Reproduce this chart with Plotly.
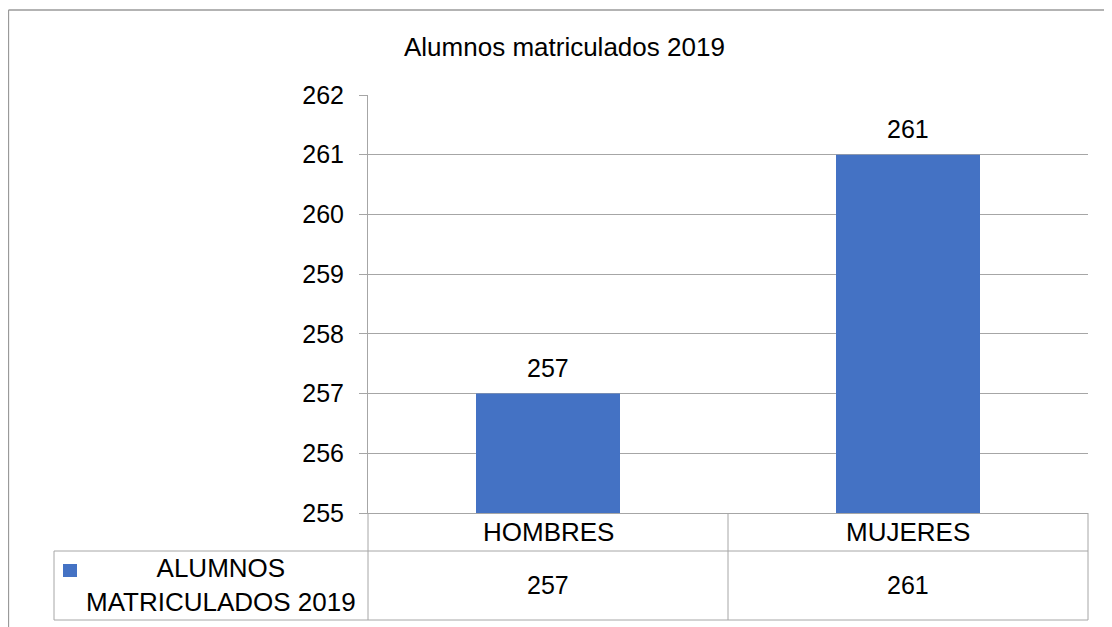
import plotly.graph_objects as go

# ---- data ----
categories = ["HOMBRES", "MUJERES"]
values = [257, 261]
series_name = "ALUMNOS<br>MATRICULADOS 2019"
title_text = "Alumnos matriculados 2019"
y_ticks = [255, 256, 257, 258, 259, 260, 261, 262]

# page body has an 8px default margin, so the figure is drawn 8px in from the window corner
OFF = 8
W, H = 1112 - OFF, 627 - OFF
FONT = "Liberation Sans, Arial, sans-serif"
BAR = "#4472C4"
GRID = "#A6A6A6"
FRAME = "#9A9A9A"

def px(x):
    return (x - OFF) / W

def py(y):
    return 1 - (y - OFF) / H

fig = go.Figure()
fig.add_trace(go.Bar(x=categories, y=values, width=0.4, marker=dict(color=BAR, line=dict(width=0)),
                     showlegend=False, hoverinfo="skip"))

shapes = []
def line(x0, y0, x1, y1, color=GRID, w=1):
    shapes.append(dict(type="line", xref="paper", yref="paper",
                       x0=px(x0), y0=py(y0), x1=px(x1), y1=py(y1),
                       line=dict(color=color, width=w), layer="above"))

# outer chart frame
line(8.5, 10, 1120, 10, FRAME, 1.3)
line(8.5, 10, 8.5, 640, FRAME, 1.3)

# data table grid
line(54, 551, 1088, 551)
line(54, 620, 1088, 620)
line(54, 551, 54, 620)
line(368, 513, 368, 620)
line(728, 513, 728, 620)
line(1088, 513, 1088, 620)

# legend key in table
shapes.append(dict(type="rect", xref="paper", yref="paper",
                   x0=px(63), x1=px(77), y0=py(577), y1=py(564),
                   fillcolor=BAR, line=dict(width=0)))

annotations = []
# title
annotations.append(dict(text=title_text, xref="paper", yref="paper", x=px(564), y=py(47),
                        xanchor="center", yanchor="middle", showarrow=False,
                        font=dict(family=FONT, size=26, color="black")))
# data labels above bars
for c, v in zip(categories, values):
    annotations.append(dict(text=str(v), x=c, y=v, xref="x", yref="y", xanchor="center",
                            yanchor="bottom", yshift=10, showarrow=False,
                            font=dict(family=FONT, size=25, color="black")))
    # header row (category names)
    annotations.append(dict(text=c, x=c, xref="x", yref="paper", y=py(532), xanchor="center",
                            yanchor="middle", showarrow=False,
                            font=dict(family=FONT, size=26, color="black")))
    # values row
    annotations.append(dict(text=str(v), x=c, xref="x", yref="paper", y=py(585), xanchor="center",
                            yanchor="middle", showarrow=False,
                            font=dict(family=FONT, size=25, color="black")))
# series name in table
annotations.append(dict(text=series_name, xref="paper", yref="paper", x=px(221), y=py(585),
                        xanchor="center", yanchor="middle", align="center", showarrow=False,
                        font=dict(family=FONT, size=26, color="black")))

fig.update_layout(
    width=W, height=H,
    margin=dict(l=0, r=0, t=0, b=0),
    paper_bgcolor="white", plot_bgcolor="white",
    shapes=shapes, annotations=annotations,
    bargap=0.6,
    xaxis=dict(domain=[px(368), px(1088)], showticklabels=False, ticks="",
               showline=True, linecolor=GRID, linewidth=1, showgrid=False, automargin=False,
               fixedrange=True),
    yaxis=dict(domain=[py(513), py(95)], range=[255, 262], tickvals=y_ticks,
               ticktext=[str(t) for t in y_ticks],
               showgrid=True, gridcolor=GRID, gridwidth=1,
               showline=True, linecolor=GRID, linewidth=1,
               ticks="outside", ticklen=8, tickcolor=GRID, tickwidth=1,
               ticklabelstandoff=10, zeroline=False, automargin=False,
               tickfont=dict(family=FONT, size=25, color="black"), fixedrange=True),
)

fig.write_html("out.html", config={"displayModeBar": False})
